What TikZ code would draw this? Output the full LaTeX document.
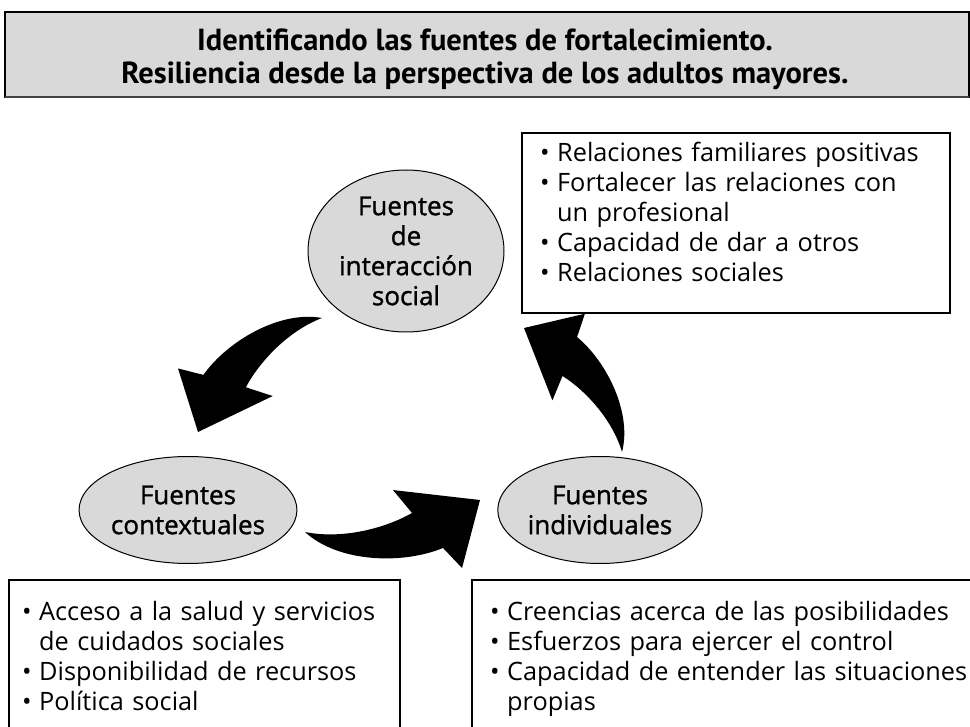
\documentclass[tikz,border=0pt]{standalone}
\usepackage{fontspec}
\setmainfont{Open Sans}
\newfontfamily\titular{PT Sans}
\newfontfamily\medio[FakeBold=1.2]{Open Sans}
\usetikzlibrary{positioning,shapes.geometric}

\definecolor{grisclaro}{HTML}{D9D9D9}

\newcommand{\punto}{\makebox[17pt][l]{\textbullet}}
\newcommand{\sigue}{\hspace*{17pt}}

% curved block arrow from tail (#1,#2) to tip (#3,#4)
\newcommand{\flecha}[4]{%
  \fill[shift={(#1,#2)}, x={({(#3-#1)*1pt},{(#2-#4)*1pt})}, y={({(#4-#2)*1pt},{(#3-#1)*1pt})}]
    (0,0) .. controls (0.2,-0.08) and (0.45,-0.06) .. (0.611,-0.003)
    -- (0.529,0.143) -- (1,0) -- (0.832,-0.358) -- (0.747,-0.228)
    .. controls (0.5,-0.28) and (0.15,-0.2) .. (0,0) -- cycle;}

\tikzset{
  fuente/.style={ellipse, draw, fill=grisclaro, line width=1pt, inner sep=0pt, align=center, font=\medio\fontsize{26}{30}\selectfont},
  lista/.style={anchor=base west, inner sep=0pt, text width=#1, font=\fontsize{25.3}{30}\selectfont},
  caja/.style={draw, line width=1.2pt}
}

\begin{document}
\begin{tikzpicture}[x=1pt, y=-1pt]
\useasboundingbox (0,0) rectangle (970,727);
\clip (0,0) rectangle (970,727);

\draw[caja, fill=grisclaro] (5,12) rectangle (969,97);
\draw[line width=2pt, black!75] (5,97) -- (969,97);
\node[align=center, font=\titular\bfseries\fontsize{30.5}{33}\selectfont] (titulo) at (485,59) {Identificando las fuentes de fortalecimiento.\\Resiliencia desde la perspectiva de los adultos mayores.};

\node[fuente, minimum width=196, minimum height=162] (social) at (406,251) {Fuentes\\de\\interacción\\social};
\node[fuente, minimum width=198, minimum height=107] (contexto) at (188,510) {Fuentes\\contextuales};
\node[fuente, minimum width=196, minimum height=107] (individual) at (600,510) {Fuentes\\individuales};

\draw[caja] (522,133) rectangle (950,313);
\node[lista=420] (relaciones) at (540,162) {\punto Relaciones familiares positivas\\\punto Fortalecer las relaciones con\\\sigue un profesional\\\punto Capacidad de dar a otros\\\punto Relaciones sociales};

\draw[caja] (9,580) rectangle (400,740);
\node[lista=420] (contextuales) at (22,620) {\punto Acceso a la salud y servicios\\\sigue de cuidados sociales\\\punto Disponibilidad de recursos\\\punto Política social};

\draw[caja] (472,580) rectangle (985,740);
\node[lista=560] (individuales) at (490,620) {\punto Creencias acerca de las posibilidades\\\punto Esfuerzos para ejercer el control\\\punto Capacidad de entender las situaciones\\\sigue propias};

\foreach \a/\b/\c/\d in {322/318/198/432, 305/532/480/500, 622/452/524/328} {
    \flecha{\a}{\b}{\c}{\d}
}
\end{tikzpicture}
\end{document}
